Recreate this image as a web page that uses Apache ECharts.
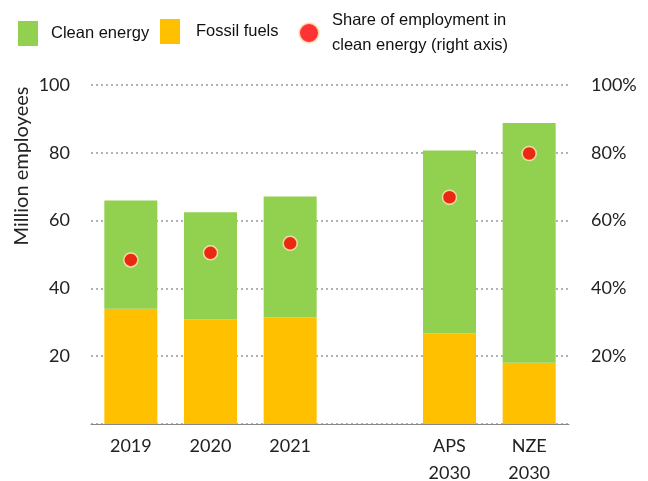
<!DOCTYPE html>
<html>
<head>
<meta charset="utf-8">
<script src="https://cdn.jsdelivr.net/npm/echarts@6/dist/echarts.min.js"></script>
<style>
html,body{margin:0;padding:0;background:#fff;}
#chart{width:648px;height:481px;}
</style>
</head>
<body>
<div id="chart"></div>
<script>
const categories = ['2019', '2020', '2021', '', 'APS\n2030', 'NZE\n2030'];
const fossilFuels = [34.0, 30.8, 31.5, null, 26.8, 18.1];
const cleanEnergy = [31.9, 31.7, 35.6, null, 53.9, 70.7];
const cleanShare = [48.4, 50.5, 53.3, null, 66.9, 79.8];
const leftTicks = ['', '20', '40', '60', '80', '100'];
const rightTicks = ['', '20%', '40%', '60%', '80%', '100%'];

const chart = echarts.init(document.getElementById('chart'));
const legendText = {fontFamily: 'Liberation Sans, Arial, sans-serif', fontSize: 16.5, color: '#111', padding: [0, 0, 0, 8]};
chart.setOption({
  animation: false,
  grid: {left: 91, right: 79, top: 85, bottom: 57, outerBoundsMode: 'none', containLabel: false},
  legend: [
    {left: 18, top: 21, padding: 0, itemWidth: 20, itemHeight: 25, data: [{name: 'Clean energy', icon: 'rect'}], textStyle: legendText, selectedMode: false},
    {left: 160, top: 19, padding: 0, itemWidth: 20, itemHeight: 25, data: [{name: 'Fossil fuels', icon: 'rect'}],
     textStyle: Object.assign({}, legendText, {padding: [0, 0, 0, 11]}), selectedMode: false},
    {left: 298, top: 8, padding: 0, itemWidth: 20, itemHeight: 25, data: [{name: 'Share of employment in clean energy (right axis)', icon: 'circle'}],
     formatter: () => 'Share of employment in\nclean energy (right axis)',
     textStyle: Object.assign({}, legendText, {lineHeight: 25, padding: [0, 0, 0, 8]}), selectedMode: false}
  ],
  graphic: [{
    type: 'text', x: 22, y: 166, rotation: Math.PI / 2,
    style: {text: 'Million employees', fontFamily: 'Lato, sans-serif', fontSize: 20, fill: '#222', align: 'center', verticalAlign: 'middle'}
  }],
  xAxis: {
    type: 'category', data: categories,
    axisLine: {lineStyle: {color: '#888', width: 1}},
    axisTick: {show: false},
    axisLabel: {fontFamily: 'Lato, sans-serif', fontSize: 18, color: '#222', lineHeight: 27, margin: 9, interval: 0}
  },
  yAxis: [
    {type: 'value', min: 0, max: 100, interval: 20,
     axisLine: {show: false}, axisTick: {show: false},
     axisLabel: {fontFamily: 'Lato, sans-serif', fontSize: 18, color: '#222', margin: 21, formatter: v => leftTicks[v / 20]},
     splitLine: {lineStyle: {color: '#999', type: [2, 3], width: 1.5}}},
    {type: 'value', min: 0, max: 100, interval: 20,
     axisLine: {show: false}, axisTick: {show: false},
     axisLabel: {fontFamily: 'Lato, sans-serif', fontSize: 18, color: '#222', margin: 22, formatter: v => rightTicks[v / 20]},
     splitLine: {show: false}}
  ],
  series: [
    {name: 'Fossil fuels', type: 'bar', stack: 'emp', data: fossilFuels, barWidth: 53, itemStyle: {color: '#FFC000'}},
    {name: 'Clean energy', type: 'bar', stack: 'emp', data: cleanEnergy, barWidth: 53, itemStyle: {color: '#92D050'}},
    {name: 'Share of employment in clean energy (right axis)', type: 'scatter', yAxisIndex: 1, data: cleanShare,
     symbol: 'circle', symbolSize: 14, z: 5,
     itemStyle: {color: '#FF0000', borderColor: '#FCEFC4', borderWidth: 1.5}}
  ]
});
</script>
</body>
</html>
